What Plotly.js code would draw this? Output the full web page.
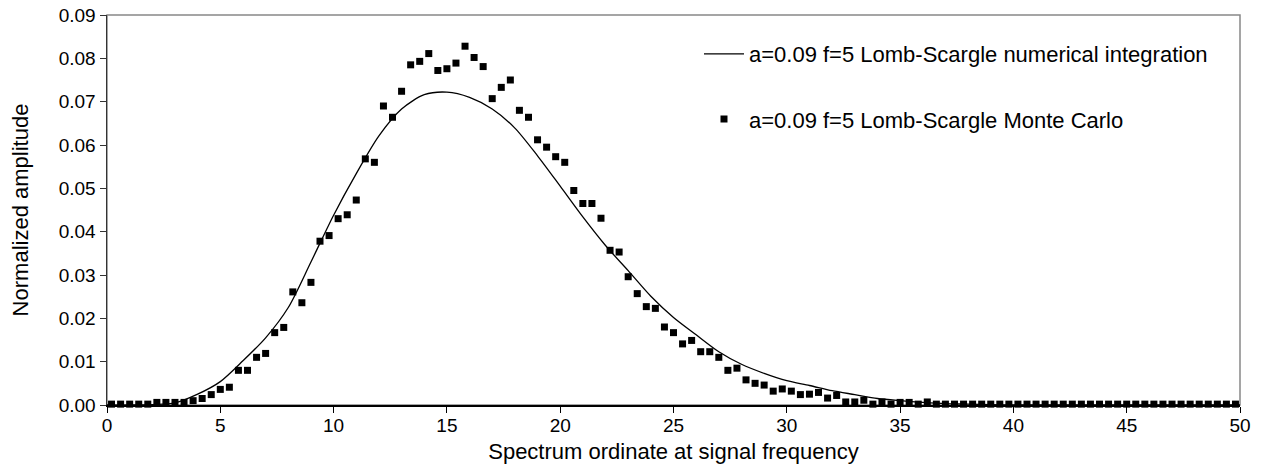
<!DOCTYPE html>
<html><head><meta charset="utf-8">
<script src="https://cdn.plot.ly/plotly-3.0.1.min.js"></script>
<style>html,body{margin:0;padding:0;background:#fff}#chart{width:1261px;height:466px}</style>
</head><body><div id="chart"></div>
<script>
const lineX = [0,1,2,3,4,5,6,7,8,9,10,11,12,13,14,15,16,17,18,19,20,21,22,23,24,25,26,27,28,29,30,31,32,33,34,35,36,37,38,39,40,41,42,43,44,45,46,47,48,49,50];
const lineY = [0,0,0.0001,0.0005,0.0025,0.0054,0.0102,0.0155,0.0225,0.033,0.0438,0.0534,0.0621,0.0683,0.0716,0.0722,0.071,0.0683,0.0639,0.0575,0.0505,0.0434,0.0368,0.031,0.0251,0.0202,0.0162,0.0123,0.0094,0.0073,0.0056,0.0045,0.0033,0.0024,0.0015,0.001,0.0006,0.0003,0.0002,0.0001,0,0,0,0,0,0,0,0,0,0,0];
const mcX = [0.2,0.6,1.0,1.4,1.8,2.2,2.6,3.0,3.4,3.8,4.2,4.6,5.0,5.4,5.8,6.2,6.6,7.0,7.4,7.8,8.2,8.6,9.0,9.4,9.8,10.2,10.6,11.0,11.4,11.8,12.2,12.6,13.0,13.4,13.8,14.2,14.6,15.0,15.4,15.8,16.2,16.6,17.0,17.4,17.8,18.2,18.6,19.0,19.4,19.8,20.2,20.6,21.0,21.4,21.8,22.2,22.6,23.0,23.4,23.8,24.2,24.6,25.0,25.4,25.8,26.2,26.6,27.0,27.4,27.8,28.2,28.6,29.0,29.4,29.8,30.2,30.6,31.0,31.4,31.8,32.2,32.6,33.0,33.4,33.8,34.2,34.6,35.0,35.4,35.8,36.2,36.6,37.0,37.4,37.8,38.2,38.6,39.0,39.4,39.8,40.2,40.6,41.0,41.4,41.8,42.2,42.6,43.0,43.4,43.8,44.2,44.6,45.0,45.4,45.8,46.2,46.6,47.0,47.4,47.8,48.2,48.6,49.0,49.4,49.8];
const mcY = [0.0002,0.0002,0.0002,0.0002,0.0002,0.0006,0.0006,0.0006,0.0006,0.001,0.0015,0.0024,0.0036,0.0041,0.008,0.008,0.011,0.0119,0.0167,0.0179,0.0261,0.0236,0.0283,0.0378,0.0391,0.043,0.0439,0.0473,0.0568,0.056,0.069,0.0664,0.0724,0.0785,0.0793,0.0811,0.0772,0.0776,0.0789,0.0828,0.0802,0.0781,0.0707,0.0733,0.075,0.068,0.0664,0.0612,0.0595,0.0573,0.056,0.0495,0.0465,0.0465,0.0431,0.0357,0.0353,0.0296,0.0257,0.0227,0.0223,0.018,0.0167,0.0141,0.0149,0.0123,0.0123,0.011,0.008,0.0085,0.0058,0.005,0.0046,0.0032,0.0037,0.0032,0.0024,0.0025,0.0029,0.0016,0.0022,0.0007,0.0007,0.0011,0.0002,0.0007,0.0002,0.0006,0.0006,0.0002,0.0007,0.0002,0.0002,0.0002,0.0002,0.0002,0.0002,0.0002,0.0002,0.0002,0.0002,0.0002,0.0002,0.0002,0.0002,0.0002,0.0002,0.0002,0.0002,0.0002,0.0002,0.0002,0.0002,0.0002,0.0002,0.0002,0.0002,0.0002,0.0002,0.0002,0.0002,0.0002,0.0002,0.0002,0.0002];
const lineName = "a=0.09 f=5 Lomb-Scargle numerical integration";
const mcName = "a=0.09 f=5 Lomb-Scargle Monte Carlo";
const xTitle = "Spectrum ordinate at signal frequency";
const yTitle = "Normalized amplitude";

const fam = "Liberation Sans, Arial, sans-serif";
const tickFont = {family: fam, size: 19, color: "#000"};
const titleFont = {family: fam, size: 22, color: "#000"};
const legFont = {family: fam, size: 22, color: "#000"};
const traces = [
  {x: lineX, y: lineY, type: "scatter", mode: "lines", name: lineName,
   line: {color: "#000", width: 1.3, shape: "spline", smoothing: 0.8}, legend: "legend", cliponaxis: false},
  {x: mcX, y: mcY, type: "scatter", mode: "markers", name: mcName,
   marker: {symbol: "square", size: 7, color: "#000"}, legend: "legend2", cliponaxis: false}
];
const layout = {
  width: 1261, height: 466,
  margin: {l: 107, r: 21, t: 15, b: 61},
  paper_bgcolor: "#fff", plot_bgcolor: "#fff",
  font: tickFont,
  showlegend: true,
  xaxis: {range: [0, 50], dtick: 5, tick0: 0, showgrid: false, zeroline: false,
          showline: true, linecolor: "#000", linewidth: 1.5,
          ticks: "outside", ticklen: 6, tickcolor: "#000", tickfont: tickFont,
          ticklabelstandoff: -3,
          title: {text: xTitle, font: titleFont, standoff: 8}},
  yaxis: {range: [0, 0.09], dtick: 0.01, tick0: 0, tickformat: ".2f", showgrid: false, zeroline: false,
          showline: true, linecolor: "#333", linewidth: 1.5,
          ticks: "outside", ticklen: 6, tickcolor: "#333", tickfont: tickFont,
          title: {text: yTitle, font: titleFont, standoff: 24}},
  shapes: [{type: "rect", xref: "paper", yref: "paper", x0: 0, x1: 1, y0: 0, y1: 1,
            line: {color: "#888", width: 1.5}, layer: "below"}],
  legend: {x: 0.5225, y: 0.90, xanchor: "left", yanchor: "middle", bgcolor: "rgba(0,0,0,0)",
           font: legFont, itemwidth: 40},
  legend2: {x: 0.5225, y: 0.733, xanchor: "left", yanchor: "middle", bgcolor: "rgba(0,0,0,0)",
           font: legFont, itemwidth: 40}
};
Plotly.newPlot("chart", traces, layout, {displayModeBar: false, staticPlot: true});
</script>
</body></html>
